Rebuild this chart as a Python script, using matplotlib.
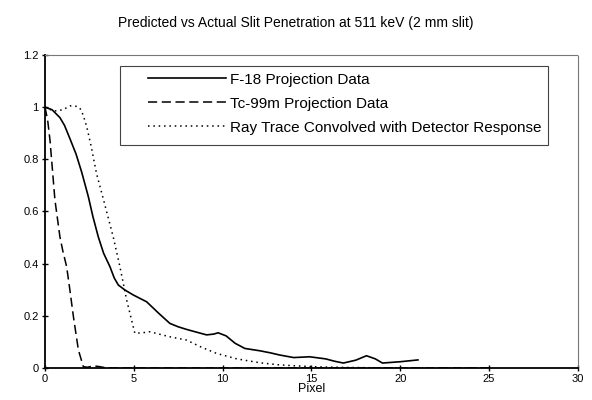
import numpy as np
import matplotlib.pyplot as plt
from matplotlib.patches import Rectangle

plt.rcParams['font.family'] = ['Liberation Sans', 'DejaVu Sans']

# ---- data ----
f18_x = [0, 0.4, 0.84, 1.1, 1.4, 1.75, 2.07, 2.44, 2.7, 3.0, 3.3, 3.66, 3.9, 4.13,
         4.5, 4.97, 5.4, 5.72, 6.4, 7.03, 7.5, 7.97, 8.5, 9.1, 9.5, 9.75, 10.2,
         10.7, 11.25, 12.1, 12.7, 13.2, 14.0, 14.9, 15.8, 16.3, 16.8, 17.5, 18.1,
         18.6, 19.0, 20.0, 21.0]
f18_y = [1.0, 0.99, 0.96, 0.93, 0.88, 0.82, 0.75, 0.657, 0.58, 0.503, 0.44, 0.388,
         0.345, 0.318, 0.299, 0.28, 0.265, 0.254, 0.21, 0.171, 0.158, 0.148, 0.138,
         0.127, 0.13, 0.135, 0.123, 0.095, 0.075, 0.066, 0.058, 0.05, 0.04, 0.043,
         0.035, 0.026, 0.019, 0.03, 0.047, 0.035, 0.019, 0.024, 0.031]

tc_x = [0, 0.15, 0.28, 0.56, 0.84, 1.0, 1.22, 1.4, 1.6, 1.88, 2.16, 2.4, 2.7, 3.0,
        3.5, 5, 10, 20, 25]
tc_y = [1.0, 0.95, 0.874, 0.644, 0.503, 0.45, 0.388, 0.3, 0.197, 0.069, 0.005,
        0.003, 0.008, 0.006, 0.0, 0.0, 0.0, 0.0, 0.0]

ray_x = [0, 0.5, 1.0, 1.41, 1.8, 1.97, 2.15, 2.35, 2.6, 2.9, 3.3, 3.84, 4.22, 4.6,
         5.06, 5.5, 5.9, 7.0, 7.97, 8.8, 9.66, 10.8, 12.1, 13.2, 14.2, 15.5, 17,
         20, 25]
ray_y = [1.0, 0.985, 0.99, 1.005, 1.003, 0.996, 0.97, 0.925, 0.85, 0.746, 0.644,
         0.503, 0.388, 0.26, 0.133, 0.135, 0.139, 0.12, 0.107, 0.08, 0.056, 0.035,
         0.02, 0.012, 0.008, 0.004, 0.002, 0.0, 0.0]

xticks = [0, 5, 10, 15, 20, 25, 30]
yticks = [0, 0.2, 0.4, 0.6, 0.8, 1.0, 1.2]
ytick_labels = ['0', '0.2', '0.4', '0.6', '0.8', '1', '1.2']

fig = plt.figure(figsize=(5.92, 4.0), dpi=100)
ax = fig.add_axes([0.076, 0.08, 0.9, 0.7825])

ax.plot(f18_x, f18_y, color='black', lw=1.2, ls='-', label='F-18 Projection Data')
ax.plot(tc_x, tc_y, color='black', lw=1.1, ls=(0, (6, 3)), label='Tc-99m Projection Data')
ax.plot(ray_x, ray_y, color='black', lw=1.1, ls=(0, (1, 2.5)),
        label='Ray Trace Convolved with Detector Response')

ax.set_xlim(0, 30)
ax.set_ylim(0, 1.2)
ax.set_xticks(xticks)
ax.set_yticks(yticks)
ax.set_yticklabels(ytick_labels)
ax.tick_params(direction='inout', length=5, width=1, labelsize=8, pad=2)

for side in ['top', 'right']:
    ax.spines[side].set_linestyle((0, (1, 1)))
    ax.spines[side].set_color('#777777')
    ax.spines[side].set_linewidth(0.8)
for side in ['left', 'bottom']:
    ax.spines[side].set_linewidth(1.3)

ax.set_xlabel('Pixel', fontsize=9, labelpad=-1)
fig.suptitle('Predicted vs Actual Slit Penetration at 511 keV (2 mm slit)',
             fontsize=10, y=0.96)

# legend box drawn separately so the entries can sit further right inside it
ax.add_patch(Rectangle((0.141, 0.712), 0.803, 0.253, transform=ax.transAxes,
                       fill=False, edgecolor='#444444', lw=0.8, zorder=4))
ax.legend(loc='upper left', bbox_to_anchor=(0.193, 0.943), borderaxespad=0,
          fontsize=11, handlelength=5.1, handletextpad=0.25, labelspacing=0.65,
          frameon=False, borderpad=0)

plt.savefig('out.png', dpi=100, facecolor='white')
plt.close()
